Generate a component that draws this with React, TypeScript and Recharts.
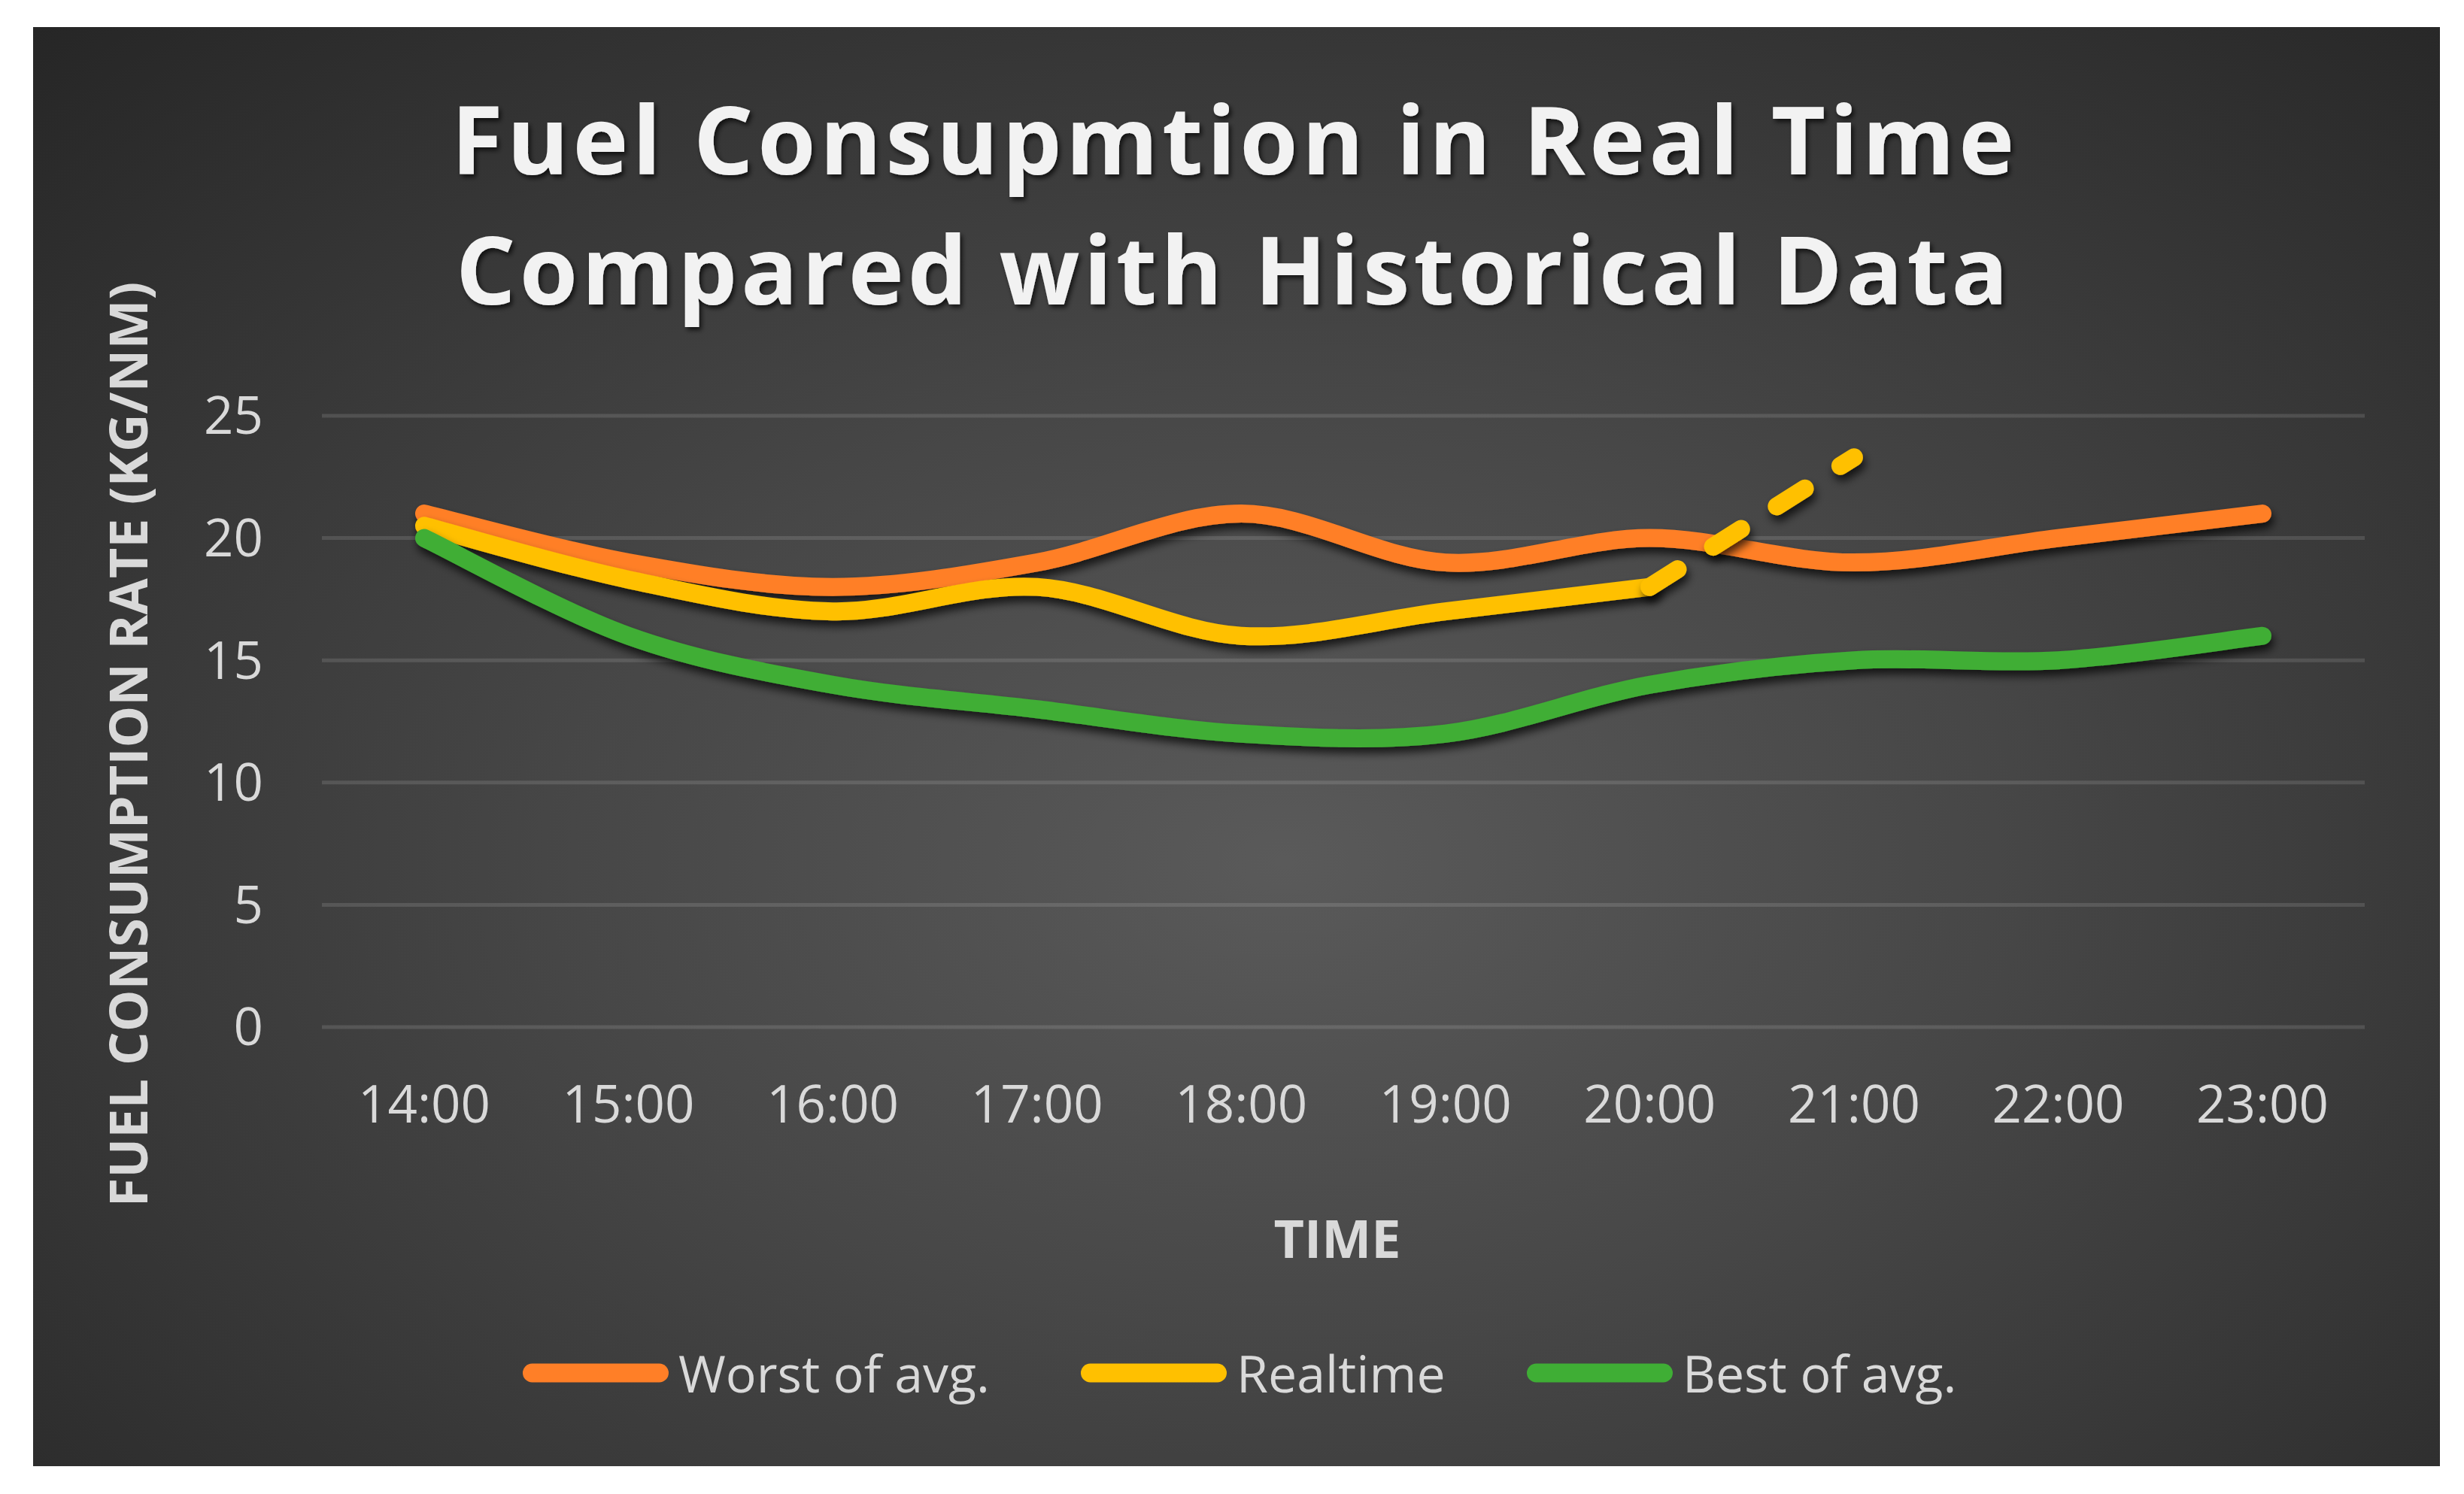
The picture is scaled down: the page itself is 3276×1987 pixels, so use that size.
import React from "react";
import { LineChart, Line, XAxis, YAxis, CartesianGrid, Legend } from "recharts";

// Hours along the x axis
const times = ["14:00", "15:00", "16:00", "17:00", "18:00", "19:00", "20:00", "21:00", "22:00", "23:00"];

// Fuel consumption rate (kg/NM)
const worstOfAvg = [21, 19, 18, 19, 21, 19, 20, 19, 20, 21];
const realtime = [20.5, 18.3, 17, 18, 16, 17, 18, null, null, null];
const realtimeForecast = [null, null, null, null, null, null, 18, 23.3, null, null];
const bestOfAvg = [20, 16, 14, 13, 12, 12, 14, 15, 15, 16];

const yTicks = [0, 5, 10, 15, 20, 25];

// legend order (the dashed forecast has no legend entry)
const legendOrder = ["worst", "realtime", "best"];

const ORANGE = "#ff7f27";
const YELLOW = "#ffc000";
const GREEN = "#3fae35";
const TEXT = "#d9d9d9";
const FONT = "'Open Sans', sans-serif";

const W = 3276;
const H = 1987;

// left edge of each legend entry (layout only)
const LEGEND_LEFT = [695, 1437, 2030];

const chartData = times.map((time, i) => ({
  time,
  worst: worstOfAvg[i],
  realtime: realtime[i],
  forecast: realtimeForecast[i],
  best: bestOfAvg[i],
}));

// Excel-like smoothed line (Catmull-Rom through every point)
function excelSmooth(context: any) {
  let xs: number[] = [];
  let ys: number[] = [];
  return {
    areaStart() {},
    areaEnd() {},
    lineStart() {
      xs = [];
      ys = [];
    },
    lineEnd() {
      const n = xs.length;
      if (n === 0) return;
      context.moveTo(xs[0], ys[0]);
      if (n === 1) {
        context.lineTo(xs[0], ys[0]);
        return;
      }
      for (let i = 0; i < n - 1; i++) {
        const a = Math.max(i - 1, 0);
        const d = Math.min(i + 2, n - 1);
        context.bezierCurveTo(
          xs[i] + (xs[i + 1] - xs[a]) / 6,
          ys[i] + (ys[i + 1] - ys[a]) / 6,
          xs[i + 1] - (xs[d] - xs[i]) / 6,
          ys[i + 1] - (ys[d] - ys[i]) / 6,
          xs[i + 1],
          ys[i + 1]
        );
      }
    },
    point(x: number, y: number) {
      xs.push(+x);
      ys.push(+y);
    },
  };
}

function renderLegend({ payload }: any) {
  const items = legendOrder
    .map((key) => (payload ?? []).find((p: any) => p.dataKey === key))
    .filter(Boolean);

  return (
    <div style={{ position: "relative", width: W, height: 100 }}>
      {items.map((entry: any, i: number) => (
        <div
          key={entry.dataKey}
          style={{
            position: "absolute",
            left: LEGEND_LEFT[i],
            top: 0,
            height: 100,
            display: "flex",
            alignItems: "center",
          }}
        >
          <svg width={194} height={30} style={{ display: "block" }}>
            <line
              x1={12.5}
              y1={15}
              x2={181.5}
              y2={15}
              stroke={entry.color}
              strokeWidth={25}
              strokeLinecap="round"
            />
          </svg>
          <span
            style={{
              marginLeft: 13,
              fontSize: 68,
              lineHeight: 1,
              color: TEXT,
              fontFamily: FONT,
              whiteSpace: "nowrap",
            }}
          >
            {entry.value}
          </span>
        </div>
      ))}
    </div>
  );
}

function renderYLabel() {
  return (
    <text
      x={196}
      y={990}
      transform="rotate(-90, 196, 990)"
      textAnchor="middle"
      fill={TEXT}
      fontFamily={FONT}
      fontWeight={700}
      fontSize={70}
    >
      FUEL CONSUMPTION RATE (KG/NM)
    </text>
  );
}

export default function App() {
  return (
    <div style={{ position: "relative", width: W, height: H, background: "#fff", overflow: "hidden" }}>
      <style>{`
        body { margin: 0; }
        .recharts-line-curve { filter: url(#lineShadow); }
      `}</style>

      {/* dark chart area */}
      <div
        style={{
          position: "absolute",
          left: 44,
          top: 36,
          width: 3200,
          height: 1914,
          background:
            "radial-gradient(ellipse farthest-corner at 52% 58%, #5a5a5a 0%, #474747 40%, #262626 100%)",
        }}
      />

      {/* title + shared filters */}
      <svg width={W} height={H} style={{ position: "absolute", left: 0, top: 0 }}>
        <defs>
          <filter id="titleShadow" x="-5%" y="-30%" width="110%" height="160%">
            <feDropShadow dx="3" dy="4" stdDeviation="3" floodColor="#000" floodOpacity="0.7" />
          </filter>
          <filter id="lineShadow" filterUnits="userSpaceOnUse" x="0" y="0" width={W} height={H}>
            <feDropShadow dx="3" dy="8" stdDeviation="6" floodColor="#000" floodOpacity="0.7" />
          </filter>
        </defs>
        <g
          filter="url(#titleShadow)"
          fill="#f2f2f2"
          fontFamily={FONT}
          fontWeight={700}
          fontSize={125}
          textAnchor="middle"
        >
          <text x={1639} y={232} textLength={2078} lengthAdjust="spacing">
            Fuel Consupmtion in Real Time
          </text>
          <text x={1638} y={405} textLength={2064} lengthAdjust="spacing">
            Compared with Historical Data
          </text>
        </g>
      </svg>

      <div style={{ position: "absolute", left: 0, top: 0 }}>
        <LineChart
          width={W}
          height={H}
          data={chartData}
          margin={{ top: 553, right: W - 3144, left: 0, bottom: 111 }}
        >
          <CartesianGrid vertical={false} stroke="rgba(255,255,255,0.12)" strokeWidth={5} />

          <XAxis
            dataKey="time"
            height={410}
            interval={0}
            padding={{ left: 136, right: 136 }}
            axisLine={false}
            tickLine={false}
            tickSize={0}
            tickMargin={78}
            tick={{ fill: TEXT, fontSize: 69, fontFamily: FONT }}
            label={{
              value: "TIME",
              position: "insideTop",
              offset: 257,
              dx: -8,
              fill: TEXT,
              fontSize: 70,
              fontWeight: 700,
              fontFamily: FONT,
            }}
          />

          <YAxis
            width={428}
            domain={[0, 25]}
            ticks={yTicks}
            axisLine={false}
            tickLine={false}
            tickSize={0}
            tickMargin={78}
            tick={{ fill: TEXT, fontSize: 69, fontFamily: FONT }}
            label={{ content: renderYLabel }}
          />

          <Legend
            verticalAlign="bottom"
            content={renderLegend}
            wrapperStyle={{ left: 0, width: W }}
          />

          <Line
            dataKey="worst"
            name="Worst of avg."
            type={excelSmooth as any}
            stroke={ORANGE}
            strokeWidth={24}
            strokeLinecap="round"
            strokeLinejoin="round"
            dot={false}
            activeDot={false}
            isAnimationActive={false}
          />
          <Line
            dataKey="realtime"
            name="Realtime"
            type={excelSmooth as any}
            stroke={YELLOW}
            strokeWidth={24}
            strokeLinecap="round"
            strokeLinejoin="round"
            dot={false}
            activeDot={false}
            isAnimationActive={false}
          />
          <Line
            dataKey="forecast"
            name="Forecast"
            legendType="none"
            type={excelSmooth as any}
            stroke={YELLOW}
            strokeWidth={24}
            strokeDasharray="44 56"
            strokeLinecap="round"
            dot={false}
            activeDot={false}
            isAnimationActive={false}
          />
          <Line
            dataKey="best"
            name="Best of avg."
            type={excelSmooth as any}
            stroke={GREEN}
            strokeWidth={24}
            strokeLinecap="round"
            strokeLinejoin="round"
            dot={false}
            activeDot={false}
            isAnimationActive={false}
          />
        </LineChart>
      </div>
    </div>
  );
}
